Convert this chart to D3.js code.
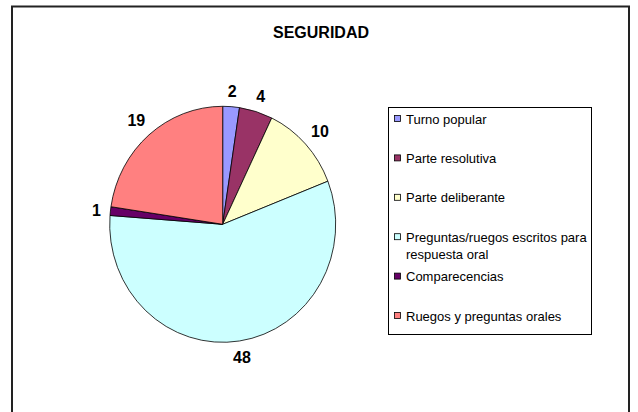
<!DOCTYPE html>
<html>
<head>
<meta charset="utf-8">
<script src="https://cdn.jsdelivr.net/npm/d3@7"></script>
<style>
  body { margin: 0; background: #fff; }
  svg { display: block; font-family: "Liberation Sans", Arial, sans-serif; }
</style>
</head>
<body>
<script>
// data
var title = "SEGURIDAD";
var categories = ["Turno popular", "Parte resolutiva", "Parte deliberante",
    "Preguntas/ruegos escritos para respuesta oral", "Comparecencias", "Ruegos y preguntas orales"];
var values = [2, 4, 10, 48, 1, 19];
var colors = ["#9999FF", "#993366", "#FFFFCC", "#CCFFFF", "#660066", "#FF8080"];

var width = 638, height = 412;
var cx = 222.7, cy = 224.3, rx = 113, ry = 118;

var svg = d3.select('body').append('svg')
    .attr('width', width)
    .attr('height', height);

// outer chart frame (bottom runs off the picture)
svg.append('rect')
    .attr('x', 12).attr('y', 6.5)
    .attr('width', 617).attr('height', 430)
    .attr('fill', 'none')
    .attr('stroke', '#222')
    .attr('stroke-width', 2);

svg.append('text')
    .attr('x', 321).attr('y', 38)
    .attr('text-anchor', 'middle')
    .style('font-size', '16px')
    .style('font-weight', 'bold')
    .text(title);

var pie = d3.pie().sort(null).value(function(d){ return d; });
var arcs = pie(values);
var arc = d3.arc().innerRadius(0).outerRadius(ry);

// pie is a little squashed sideways in the reference
var g = svg.append('g')
    .attr('transform', 'translate(' + cx + ',' + cy + ') scale(' + (rx / ry) + ',1)');

g.selectAll('path')
    .data(arcs)
    .enter().append('path')
    .attr('d', arc)
    .attr('fill', function(d, i){ return colors[i]; })
    .attr('stroke', '#000')
    .attr('stroke-width', 0.8)
    .attr('vector-effect', 'non-scaling-stroke');

// value labels outside the pie
var labels = svg.selectAll('text.val')
    .data(arcs)
    .enter().append('text')
    .attr('class', 'val')
    .attr('text-anchor', 'middle')
    .style('font-size', '16px')
    .style('font-weight', 'bold')
    .text(function(d){ return d.value; });

labels.each(function(d){
    var a = (d.startAngle + d.endAngle) / 2;
    var s = Math.sin(a), c = Math.cos(a);
    var w = this.getComputedTextLength();
    var h = 12;
    var off = 9 + Math.abs(s) * w / 2 + Math.abs(c) * h / 2;
    var x = cx + rx * s + off * s;
    var y = cy - ry * c - off * c;
    d3.select(this).attr('x', x).attr('y', y + h / 2);
});

// legend
var legend = svg.append('g');
legend.append('rect')
    .attr('x', 388.5).attr('y', 107.5)
    .attr('width', 203).attr('height', 227)
    .attr('fill', '#fff')
    .attr('stroke', '#000')
    .attr('stroke-width', 1);

var textX = 406, maxW = 183, lineH = 17;
categories.forEach(function(name, i){
    var yc = 119 + i * 39.4;
    legend.append('rect')
        .attr('x', 394.5).attr('y', yc - 3.5)
        .attr('width', 6).attr('height', 6)
        .attr('fill', colors[i])
        .attr('stroke', '#000')
        .attr('stroke-width', 0.8);
    var t = legend.append('text')
        .attr('x', textX).attr('y', yc + 4.6)
        .style('font-size', '13px');
    // simple word wrap
    var words = name.split(' '), line = [], lineNo = 0;
    var tspan = t.append('tspan').attr('x', textX).attr('dy', 0);
    words.forEach(function(wd){
        line.push(wd);
        tspan.text(line.join(' '));
        if (tspan.node().getComputedTextLength() > maxW && line.length > 1) {
            line.pop();
            tspan.text(line.join(' '));
            line = [wd];
            lineNo++;
            tspan = t.append('tspan').attr('x', textX).attr('dy', lineH).text(wd);
        }
    });
});
</script>
</body>
</html>
